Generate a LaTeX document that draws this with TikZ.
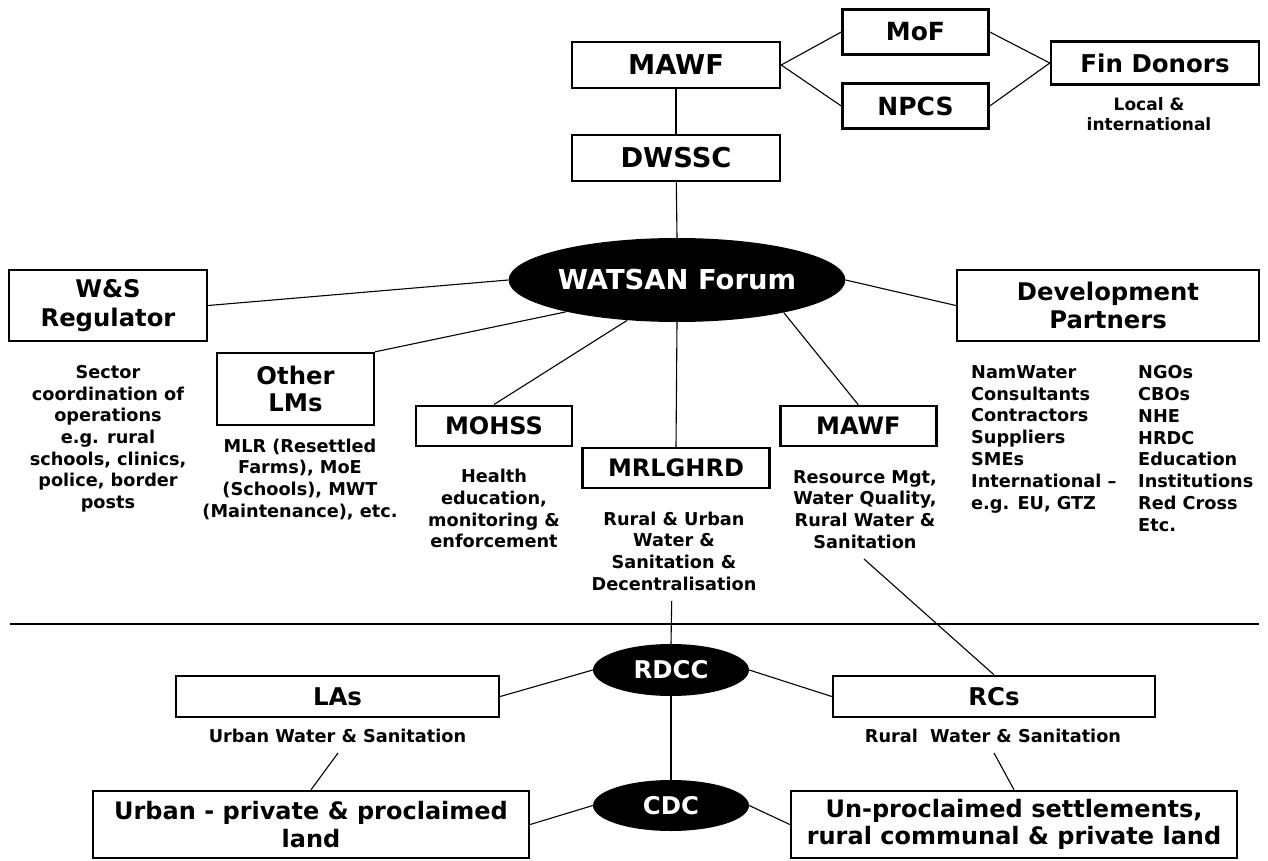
\documentclass[tikz,border=0pt]{standalone}
\usepackage{fontspec}
\setmainfont{DejaVu Sans}
\usetikzlibrary{shapes.geometric}
\newcommand\fsz[2]{\fontsize{#1}{#2}\selectfont\bfseries}
\begin{document}
\begin{tikzpicture}[x=1pt,y=-1pt,
  box/.style={draw, line width=2.4pt, fill=white, inner sep=0pt, align=center},
  oval/.style={ellipse, fill=black, text=white, inner sep=0pt},
  note/.style={inner sep=0pt, align=center, anchor=north, font=\fsz{17.7}{21.7}},
  col/.style={inner sep=0pt, align=left, anchor=north west, font=\fsz{17.7}{21.9}},
  link/.style={line width=1.1pt}]
\useasboundingbox (0,0) rectangle (1268,861);
% top
\node[box, minimum width=208pt, minimum height=46pt, font=\fsz{27.3}{32}] (mawfa) at (676,65) {MAWF};
\node[box, minimum width=208pt, minimum height=46pt, font=\fsz{27.3}{32}] (dwssc) at (676,158) {DWSSC};
\node[box, minimum width=146pt, minimum height=45pt, font=\fsz{25}{30}] (mof) at (915.5,32) {MoF};
\node[box, minimum width=146pt, minimum height=45pt, font=\fsz{25}{30}] (npcs) at (915.5,106) {NPCS};
\node[box, minimum width=208pt, minimum height=43pt, font=\fsz{24.5}{30}] (fin) at (1155,63) {Fin Donors};
\node[note, font=\fsz{17}{20}] (local) at (1149,97) {Local \&\\international};
% middle
\node[oval, minimum width=296pt, minimum height=84pt, font=\fsz{27.4}{32}] (watsan) at (677,280) {WATSAN Forum};
\node[box, minimum width=198pt, minimum height=71pt, font=\fsz{24.3}{29}] (ws) at (108,305.5) {W\&S\\Regulator};
\node[note] (sector) at (108,365) {Sector\\coordination of\\operations\\e.g. rural\\schools, clinics,\\police, border\\posts};
\node[box, minimum width=157pt, minimum height=72pt, font=\fsz{24.3}{27.5}] (olms) at (295.5,389) {Other\\LMs};
\node[note] (mlr) at (300,438.5) {MLR (Resettled\\Farms), MoE\\(Schools), MWT\\(Maintenance), etc.};
\node[box, minimum width=156pt, minimum height=40pt, font=\fsz{24}{29}] (mohss) at (494,425.7) {MOHSS};
\node[note] (health) at (494,469) {Health\\education,\\monitoring \&\\enforcement};
\node[box, minimum width=187pt, minimum height=40pt, font=\fsz{24}{29}] (mrl) at (676,468) {MRLGHRD};
\node[note] (rural) at (674,511.5) {Rural \& Urban\\Water \&\\Sanitation \&\\Decentralisation};
\node[box, minimum width=156pt, minimum height=40pt, font=\fsz{24}{29}] (mawfb) at (858.3,426) {MAWF};
\node[note] (resource) at (865,470) {Resource Mgt,\\Water Quality,\\Rural Water \&\\Sanitation};
\node[box, minimum width=302pt, minimum height=71pt, font=\fsz{24.3}{28}] (dev) at (1108,305.5) {Development\\Partners};
\node[col] (devA) at (971,365) {NamWater\\Consultants\\Contractors\\Suppliers\\SMEs\\International --\\e.g. EU, GTZ};
\node[col] (devB) at (1138,365) {NGOs\\CBOs\\NHE\\HRDC\\Education\\Institutions\\Red Cross\\Etc.};
% divider
\coordinate (divL) at (10,624);
\coordinate (divR) at (1259,624);
\draw[line width=1.3pt] (divL) -- (divR);
% bottom
\node[oval, minimum width=156pt, minimum height=52pt, font=\fsz{24.4}{29}] (rdcc) at (671,670) {RDCC};
\node[oval, minimum width=156pt, minimum height=51pt, font=\fsz{24.4}{29}] (cdc) at (671,805.5) {CDC};
\node[box, minimum width=323pt, minimum height=41pt, font=\fsz{24.4}{29}] (las) at (337.5,696.5) {LAs};
\node[box, minimum width=322pt, minimum height=41pt, font=\fsz{24.4}{29}] (rcs) at (994,696.5) {RCs};
\node[note] (lastxt) at (337.5,729) {Urban Water \& Sanitation};
\node[note] (rcstxt) at (993,729) {Rural\ \ Water \& Sanitation};
\node[box, minimum width=436pt, minimum height=67pt, font=\fsz{24}{27.5}] (urban) at (311,824.5) {Urban - private \& proclaimed\\land};
\node[box, minimum width=446pt, minimum height=67pt, font=\fsz{24}{27.5}] (un) at (1014,824.5) {Un-proclaimed settlements,\\rural communal \& private land};
% free ends
\coordinate (mrlEnd) at (671.7,601);
\coordinate (mawfEnd) at (864,559);
\coordinate (lasEnd) at (338,753);
\coordinate (rcsEnd) at (994,753);
% connectors
\draw[link] (mawfa) -- (dwssc);
\draw[link] (dwssc) -- (watsan.north);
\draw[link] (mawfa.east) -- (mof.west);
\draw[link] (mawfa.east) -- (npcs.west);
\draw[link] (mof.east) -- (fin.west);
\draw[link] (npcs.east) -- (fin.west);
\draw[link] (ws.east) -- (watsan.west);
\draw[link] (olms.north east) -- (watsan.196.7);
\draw[link] (mohss.north) -- (watsan.219);
\draw[link] (mrl.north) -- (watsan.south);
\draw[link] (mawfb.north) -- (watsan.-17.1);
\draw[link] (watsan.east) -- (dev.west);
\draw[link] (mrlEnd) -- (rdcc.north);
\draw[link] (rdcc.south) -- (cdc.north);
\draw[link] (rdcc.west) -- (las.east);
\draw[link] (rdcc.east) -- (rcs.west);
\draw[link] (mawfEnd) -- (rcs.north);
\draw[link] (lasEnd) -- (urban.north);
\draw[link] (rcsEnd) -- (un.north);
\draw[link] (cdc.west) -- (urban.east);
\draw[link] (cdc.east) -- (un.west);
\end{tikzpicture}
\end{document}
